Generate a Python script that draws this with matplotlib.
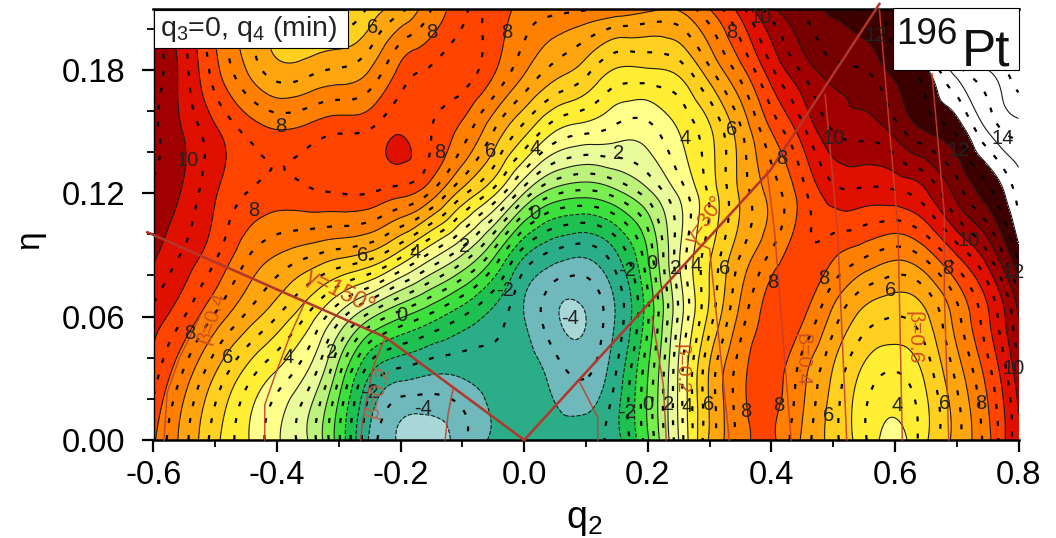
import numpy as np
import matplotlib
matplotlib.use("Agg")
import matplotlib.pyplot as plt
import matplotlib.tri as mtri
from matplotlib.patches import Rectangle

plt.rcParams['font.family'] = ['Liberation Sans', 'DejaVu Sans']
plt.rcParams['axes.unicode_minus'] = False
plt.rcParams['mathtext.fontset'] = 'custom'
plt.rcParams['mathtext.rm'] = 'Liberation Sans'
plt.rcParams['mathtext.default'] = 'rm'

# q2 column positions, eta rows, and the deformation energy read along each row
q2 = np.arange(29) * 0.05 - 0.6
eta = np.array([0.0, 0.03, 0.06, 0.09, 0.12, 0.15, 0.18, 0.21])
E_000 = [8.1, 6.7, 5.2, 4.1, 3.1, 2.0, -0.4, -3.1, -4.1, -4.5, -3.6, -2.9, -2.7, -2.6, -2.6, -2.2, -0.1, 3.0, 6.1, 7.7, 8.1, 6.9, 5.7, 4.6, 3.7, 4.9, 6.3, 7.8, 10.0]
E_003 = [8.7, 7.3, 5.9, 4.7, 3.8, 2.8, 0.5, -2.1, -2.9, -3.1, -3.0, -2.7, -2.6, -3.2, -3.5, -2.4, 0.0, 3.1, 6.1, 7.8, 8.3, 7.2, 5.9, 4.8, 4.4, 5.1, 6.6, 8.2, 10.3]
E_006 = [9.3, 8.5, 7.4, 6.4, 5.5, 4.4, 2.8, 1.2, 0.1, -0.7, -1.5, -2.2, -3.0, -3.9, -4.0, -2.9, -0.6, 2.6, 5.2, 7.2, 8.3, 8.1, 6.8, 5.8, 5.5, 5.9, 7.3, 8.9, 11.0]
E_009 = [10.1, 9.4, 8.6, 7.6, 7.0, 6.6, 6.2, 5.8, 4.7, 3.3, 2.0, 0.2, -1.9, -2.7, -2.9, -2.05, 0.0, 2.9, 4.9, 6.5, 7.6, 8.4, 8.1, 7.6, 7.2, 7.7, 9.0, 10.4, 12.7]
E_012 = [10.4, 9.9, 9.05, 8.5, 8.3, 8.4, 8.5, 8.5, 8.2, 7.4, 5.7, 4.2, 2.0, 0.6, 0.3, 0.8, 1.8, 3.1, 4.6, 6.1, 7.2, 8.3, 9.3, 9.35, 9.4, 9.9, 11.2, 12.3, 13.7]
E_015 = [10.6, 9.95, 9.1, 8.4, 8.05, 8.2, 8.45, 8.55, 8.96, 8.5, 7.8, 6.5, 5.2, 4.0, 3.6, 3.3, 3.3, 4.0, 4.9, 6.4, 8.0, 9.3, 10.5, 10.7, 11.2, 12.0, 12.6, 14.0, 14.7]
E_018 = [10.8, 9.7, 8.2, 7.0, 6.2, 6.3, 6.55, 7.0, 8.15, 8.55, 8.75, 8.1, 7.1, 6.3, 5.7, 4.95, 4.95, 5.2, 6.4, 7.8, 9.4, 10.6, 11.3, 11.5, 12.2, 12.9, 14.3, 15.0, 16.0]
E_021 = [11.0, 9.8, 8.0, 7.0, 6.0, 5.4, 5.0, 5.6, 6.3, 7.5, 8.4, 8.4, 7.8, 7.7, 7.6, 7.5, 7.2, 7.1, 8.05, 9.3, 10.9, 11.6, 12.2, 12.6, 12.9, 14.4, 15.5, 16.0, 16.5]

band_edges = [-6, -4, -3, -2, -1, 0, 1, 2, 3, 4, 5, 6, 7, 8, 9, 10, 11, 12, 13, 20]
band_colors = ['#A9D6D6', '#6FB8BC', '#2BAE88', '#1FC052', '#3CE03C', '#78EE50', '#BCF27C', '#EAFB9C',
               '#FFFF8C', '#FFEE33', '#FFD020', '#FFA510', '#FF7F00', '#FF4400', '#E01000', '#A00000',
               '#760000', '#3C0000', '#FFFFFF']
solid_levels = [-4, -3, -2, -1, 0, 1, 2, 3, 4, 5, 6, 7, 8, 9, 10, 11, 12, 13, 14, 15]
dashed_levels = [-3.5, -2.5, -1.5, -0.5, 0.5, 1.5, 2.5, 3.5, 4.5, 5.5, 6.5, 7.5, 8.5, 9.5, 10.5, 11.5, 12.5, 13.5, 14.5, 15.5]

# gamma rays (q2, eta) and beta curves
gamma_150_q = [0.0, -0.225, -0.61]
gamma_150_e = [0.0, 0.050, 0.101]
gamma_30_q = [0.0, 0.398, 0.575]
gamma_30_e = [0.0, 0.131, 0.212]
beta_q = [
    [-0.583, -0.578, -0.558, -0.525],
    [-0.42, -0.42, -0.405, -0.38, -0.355],
    [-0.265, -0.26, -0.244, -0.225],
    [-0.128, -0.123, -0.115],
    [0.119, 0.119, 0.09],
    [0.23, 0.225, 0.207],
    [0.332, 0.30, 0.285],
    [0.432, 0.405, 0.393],
    [0.522, 0.507, 0.487],
    [0.612, 0.605, 0.575],
    [0.687, 0.68, 0.68, 0.66],
]
beta_e = [
    [0.0, 0.023, 0.04, 0.06],
    [0.0, 0.017, 0.03, 0.05, 0.067],
    [0.0, 0.012, 0.036, 0.05],
    [0.0, 0.013, 0.025],
    [0.0, 0.011, 0.028],
    [0.0, 0.027, 0.06],
    [0.0, 0.093, 0.095],
    [0.0, 0.102, 0.131],
    [0.0, 0.102, 0.168],
    [0.0, 0.102, 0.209],
    [0.0, 0.072, 0.11, 0.178],
]

# contour labels: text, screen x, screen y in the reference
label_text = ['10', '8', '6', '8', '8', '8', '6', '4', '2', '4', '6', '8', '10', '12', '8', '10', '12', '14',
              '8', '0', '6', '4', '2', '0', '2', '4', '6', '8', '-2', '-2', '0', '2', '4', '6', '8', '8', '6',
              '8', '10', '12', '-4', '-4', '-2', '-2', '0', '2', '4', '6', '8', '8', '6', '4', '6', '8', '10']
label_x = [188, 281, 372, 432, 507, 440, 490, 535, 618, 685, 731, 731, 760, 875, 781, 833, 958, 1002,
           254, 535, 363, 415, 464, 402, 331, 288, 228, 190, 505, 627, 652, 675, 696, 724, 772, 823, 890,
           947, 968, 1013, 570, 423, 370, 627, 648, 668, 687, 708, 745, 778, 828, 897, 944, 980, 1013]
label_y = [160, 126, 27, 32, 32, 152, 151, 148, 153, 138, 129, 32, 17, 35, 158, 138, 150, 138,
           210, 213, 255, 252, 246, 315, 352, 357, 357, 333, 290, 270, 263, 268, 265, 268, 282, 278, 290,
           268, 240, 272, 318, 408, 392, 412, 404, 404, 406, 404, 411, 405, 415, 405, 403, 403, 368]

W, H = 1056, 538
fig = plt.figure(figsize=(W / 100, H / 100), dpi=100)
ax = fig.add_axes([153.5 / W, 1 - 440 / H, (1018.5 - 153.5) / W, (440 - 9) / H])

Q, N = np.meshgrid(q2, eta)
Z = np.array([E_000, E_003, E_006, E_009, E_012, E_015, E_018, E_021])
tri = mtri.Triangulation(Q.ravel(), N.ravel())
refiner = mtri.UniformTriRefiner(tri)
tf, zf = refiner.refine_field(Z.ravel(), subdiv=4)

ax.tricontourf(tf, zf, levels=band_edges, colors=band_colors)
ax.tricontour(tf, zf, levels=solid_levels, colors='#1c1c1c', linewidths=0.8)
ax.tricontour(tf, zf, levels=dashed_levels, colors='black', linewidths=1.6, linestyles=[(0, (2.2, 5.5))])

red = '#B4352A'
ax.plot(gamma_150_q, gamma_150_e, color=red, lw=1.8, clip_on=False, zorder=5)
ax.plot(gamma_30_q, gamma_30_e, color=red, lw=1.8, clip_on=False, zorder=5)
for bq, be in zip(beta_q, beta_e):
    ax.plot(bq, be, color='#C4402F', lw=1.1, clip_on=False, zorder=5, alpha=0.9)

ax.set_xlim(-0.6, 0.8)
ax.set_ylim(0, 0.2095)


def to_q(px):
    return (px - 524) / 617.5


def to_e(py):
    return (440 - py) / 2058


for t, x, y in zip(label_text, label_x, label_y):
    ax.text(to_q(x), to_e(y), t, fontsize=14.5, ha='center', va='center', color='#222222', zorder=6, clip_on=False)

red_text = '#D0501E'
ax.text(to_q(340), to_e(292), 'γ=150°', fontsize=17, color=red_text, rotation=-27, ha='center', va='center', zorder=6)
ax.text(to_q(705), to_e(220), 'γ=30°', fontsize=15, color=red_text, rotation=55, ha='center', va='center', zorder=6)
ax.text(to_q(212), to_e(318), 'β=0.4', fontsize=15, color=red_text, rotation=72, ha='center', va='center', zorder=6)
ax.text(to_q(378), to_e(392), 'β=0.2', fontsize=15, color='#B8604A', rotation=76, ha='center', va='center', zorder=6)
ax.text(to_q(681), to_e(369), 'β=0.2', fontsize=14, color=red_text, rotation=-90, ha='center', va='center', zorder=6)
ax.text(to_q(802), to_e(360), 'β=0.4', fontsize=15, color=red_text, rotation=-90, ha='center', va='center', zorder=6)
ax.text(to_q(914), to_e(338), 'β=0.6', fontsize=15, color=red_text, rotation=-90, ha='center', va='center', zorder=6)

ax.set_xticks([-0.6, -0.4, -0.2, 0.0, 0.2, 0.4, 0.6, 0.8])
ax.set_xticklabels(['-0.6', '-0.4', '-0.2', '0.0', '0.2', '0.4', '0.6', '0.8'])
ax.set_xticks(np.arange(-0.5, 0.8, 0.2), minor=True)
ax.set_yticks([0.0, 0.06, 0.12, 0.18])
ax.set_yticklabels(['0.00', '0.06', '0.12', '0.18'])
ax.set_yticks([0.02, 0.04, 0.08, 0.10, 0.14, 0.16, 0.20], minor=True)
ax.tick_params(axis='both', which='major', length=8.5, width=1.6, labelsize=23.5)
ax.tick_params(axis='both', which='minor', length=5, width=1.3)
ax.tick_params(axis='x', which='major', pad=6)
ax.tick_params(axis='y', which='major', pad=12)
for s in ['top', 'bottom']:
    ax.spines[s].set_linewidth(1.8)
ax.spines['left'].set_linewidth(1.0)
ax.spines['right'].set_visible(False)

fig.text(584 / W, 1 - 520 / H, r'$\mathrm{q_2}$', fontsize=27, ha='center', va='center')
fig.text(30 / W, 1 - 240 / H, 'η', fontsize=24, rotation=90, ha='center', va='center')

ax.add_patch(Rectangle((154 / W, 1 - 48 / H), 194 / W, 38 / H, transform=fig.transFigure,
                       facecolor='white', edgecolor='black', lw=0.8, zorder=8, clip_on=False))
fig.text(160 / W, 1 - 29 / H, r'q$_3$=0, q$_4$ (min)', fontsize=20.5, ha='left', va='center', zorder=9, color='#222222')
ax.add_patch(Rectangle((893 / W, 1 - 70 / H), 126 / W, 62 / H, transform=fig.transFigure,
                       facecolor='white', edgecolor='black', lw=0.8, zorder=8, clip_on=False))
fig.text(896 / W, 1 - 44 / H, '196', fontsize=26.5, ha='left', va='baseline', zorder=9, color='#111111')
fig.text(962 / W, 1 - 65 / H, 'Pt', fontsize=37, ha='left', va='baseline', zorder=9, color='#111111')

fig.savefig('out.png', dpi=100)
